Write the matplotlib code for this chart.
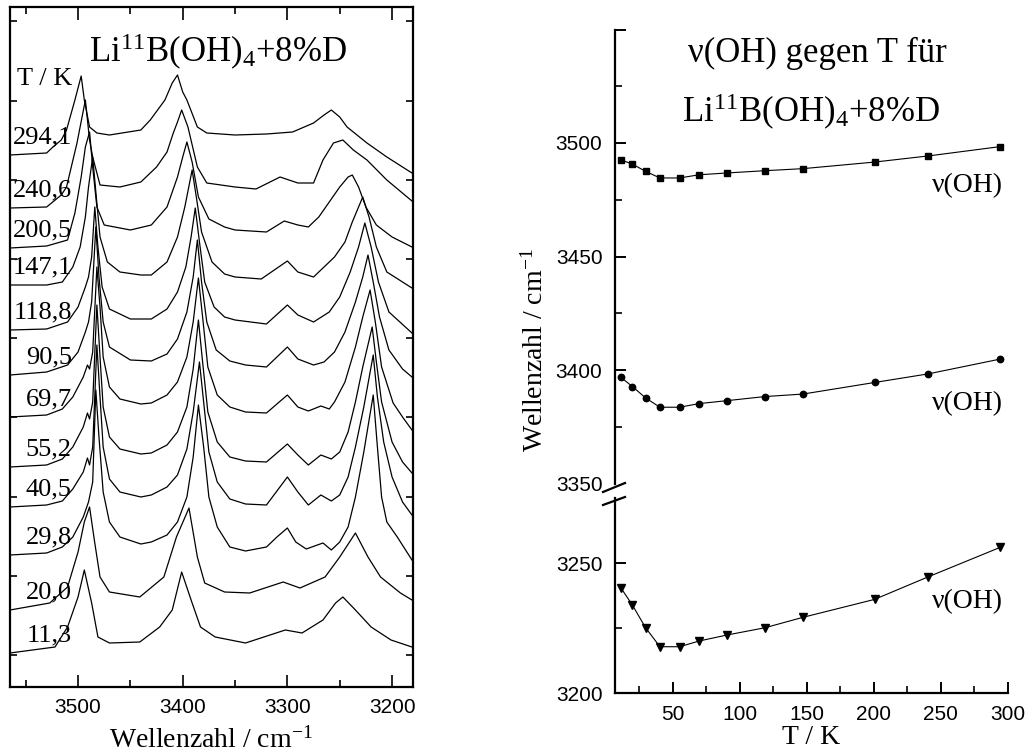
import numpy as np
import matplotlib
matplotlib.use('Agg')
import matplotlib.pyplot as plt
from matplotlib.lines import Line2D

plt.rcParams['font.family'] = 'Liberation Serif'
plt.rcParams['mathtext.fontset'] = 'custom'
plt.rcParams['mathtext.rm'] = 'Liberation Serif'
plt.rcParams['mathtext.it'] = 'Liberation Serif:italic'
plt.rcParams['mathtext.bf'] = 'Liberation Serif:bold'

# rechts: Bandenlagen gegen Temperatur
T = [11.3, 20.0, 29.8, 40.5, 55.2, 69.7, 90.5, 118.8, 147.1, 200.5, 240.6, 294.1]
nu_high = [3492.6, 3490.7, 3487.5, 3484.6, 3484.6, 3486.0, 3486.8, 3487.8, 3488.7, 3491.6, 3494.3, 3498.4]
nu_mid = [3396.8, 3392.7, 3387.7, 3383.6, 3383.6, 3385.2, 3386.5, 3388.3, 3389.4, 3394.5, 3398.3, 3404.8]
nu_low = [3240.5, 3233.8, 3225.1, 3217.8, 3217.8, 3220.0, 3222.3, 3225.1, 3229.1, 3236.0, 3244.7, 3256.0]

# links: Spektren (mit Versatz, willkuerliche Einheiten)
temp_labels = ['11,3', '20,0', '29,8', '40,5', '55,2', '69,7', '90,5', '118,8', '147,1', '200,5', '240,6', '294,1']

wn_113 = [3565, 3522, 3510, 3500, 3494, 3487, 3481, 3470, 3441, 3422, 3410, 3401, 3391, 3383, 3369, 3340, 3302, 3286, 3266, 3254, 3247, 3235, 3220, 3201, 3181]
in_113 = [34, 40, 60, 90, 117, 84, 50, 44, 45, 60, 77, 115, 84, 60, 50, 44, 57, 54, 67, 84, 90, 77, 60, 47, 40]

wn_200 = [3565, 3527, 3510, 3500, 3494, 3489, 3484, 3479, 3470, 3441, 3418, 3406, 3394, 3386, 3379, 3360, 3336, 3304, 3288, 3264, 3250, 3235, 3223, 3211, 3192, 3181]
in_200 = [77, 84, 100, 135, 165, 180, 144, 110, 95, 90, 110, 150, 179, 130, 104, 95, 94, 105, 99, 110, 130, 154, 130, 110, 94, 87]

wn_298 = [3565, 3530, 3515, 3505, 3495, 3490, 3486, 3483, 3480, 3476, 3470, 3460, 3440, 3430, 3415, 3405, 3396, 3390, 3385, 3380, 3375, 3367, 3355, 3340, 3320, 3310, 3300, 3292, 3282, 3266, 3258, 3250, 3242, 3235, 3227, 3218, 3214, 3210, 3205, 3195, 3181]
in_298 = [132, 134, 140, 150, 170, 185, 205, 297, 250, 195, 165, 150, 143, 145, 152, 165, 190, 230, 282, 240, 190, 160, 140, 136, 140, 150, 159, 145, 138, 144, 137, 145, 160, 190, 235, 292, 240, 190, 165, 150, 127]

wn_405 = [3565, 3530, 3515, 3505, 3495, 3491, 3489, 3486, 3482, 3479, 3476, 3470, 3460, 3440, 3430, 3415, 3405, 3396, 3390, 3384, 3380, 3375, 3367, 3355, 3340, 3320, 3300, 3290, 3280, 3268, 3258, 3250, 3242, 3235, 3227, 3218, 3214, 3208, 3200, 3190, 3181]
in_405 = [180, 182, 186, 198, 215, 229, 222, 240, 342, 290, 240, 208, 195, 190, 192, 200, 212, 238, 275, 325, 285, 235, 205, 188, 183, 182, 210, 195, 182, 192, 186, 192, 210, 240, 280, 332, 290, 245, 210, 185, 172]

wn_552 = [3565, 3530, 3515, 3505, 3495, 3491, 3489, 3486, 3482, 3479, 3476, 3470, 3460, 3440, 3430, 3415, 3405, 3396, 3390, 3385, 3381, 3376, 3367, 3355, 3340, 3320, 3300, 3290, 3280, 3268, 3258, 3250, 3242, 3235, 3228, 3219, 3215, 3210, 3200, 3190, 3181]
in_552 = [220, 222, 228, 240, 260, 274, 268, 285, 382, 330, 280, 250, 238, 233, 234, 242, 255, 280, 318, 367, 325, 275, 245, 230, 226, 225, 243, 232, 222, 232, 228, 235, 255, 285, 320, 360, 325, 285, 245, 225, 214]

wn_697 = [3565, 3530, 3515, 3505, 3495, 3491, 3489, 3486, 3482, 3479, 3476, 3470, 3460, 3440, 3430, 3415, 3405, 3396, 3390, 3385, 3381, 3376, 3367, 3355, 3340, 3320, 3300, 3290, 3280, 3268, 3260, 3255, 3245, 3235, 3228, 3221, 3216, 3210, 3199, 3190, 3181]
in_697 = [270, 272, 278, 290, 310, 322, 318, 335, 420, 380, 330, 300, 288, 283, 284, 292, 305, 330, 365, 409, 370, 320, 292, 280, 275, 274, 292, 280, 276, 281, 278, 285, 305, 340, 370, 397, 365, 320, 284, 270, 257]

wn_905 = [3565, 3530, 3510, 3500, 3493, 3490, 3487, 3483, 3480, 3476, 3470, 3450, 3430, 3415, 3405, 3396, 3390, 3386, 3382, 3377, 3368, 3355, 3340, 3320, 3300, 3290, 3275, 3265, 3255, 3245, 3235, 3228, 3223, 3218, 3212, 3203, 3190, 3181]
in_905 = [312, 315, 322, 335, 355, 365, 385, 460, 410, 365, 340, 327, 326, 333, 348, 375, 410, 447, 405, 365, 337, 326, 322, 320, 340, 328, 322, 325, 335, 355, 385, 410, 432, 405, 370, 337, 318, 310]

wn_1188 = [3565, 3530, 3510, 3500, 3493, 3490, 3487, 3484, 3481, 3477, 3470, 3450, 3430, 3415, 3405, 3397, 3392, 3388, 3384, 3379, 3370, 3360, 3350, 3320, 3300, 3290, 3275, 3260, 3250, 3240, 3232, 3226, 3220, 3213, 3203, 3181]
in_1188 = [357, 358, 365, 380, 400, 410, 430, 480, 440, 400, 378, 368, 368, 378, 395, 420, 450, 479, 445, 405, 380, 370, 367, 363, 382, 372, 365, 375, 390, 415, 440, 464, 440, 405, 375, 354]

wn_1471 = [3565, 3530, 3515, 3505, 3498, 3493, 3490, 3486, 3483, 3479, 3472, 3460, 3440, 3430, 3415, 3405, 3398, 3391, 3387, 3382, 3372, 3360, 3350, 3325, 3300, 3290, 3275, 3265, 3255, 3245, 3238, 3228, 3222, 3215, 3205, 3181]
in_1471 = [402, 402, 405, 420, 440, 470, 500, 530, 495, 450, 425, 415, 412, 412, 425, 450, 480, 517, 490, 455, 425, 413, 410, 408, 426, 415, 410, 420, 430, 445, 465, 490, 470, 440, 415, 399]

wn_2005 = [3565, 3530, 3510, 3503, 3497, 3493, 3489, 3486, 3482, 3475, 3450, 3430, 3415, 3405, 3400, 3396, 3391, 3385, 3375, 3360, 3350, 3320, 3303, 3290, 3280, 3270, 3260, 3250, 3242, 3238, 3232, 3225, 3215, 3200, 3181]
in_2005 = [439, 441, 447, 474, 510, 540, 555, 520, 480, 462, 457, 462, 480, 510, 530, 545, 525, 490, 468, 460, 457, 455, 466, 462, 460, 470, 485, 500, 510, 512, 500, 480, 462, 450, 440]

wn_2406 = [3565, 3530, 3516, 3511, 3501, 3493, 3489, 3486, 3479, 3460, 3440, 3425, 3415, 3409, 3405, 3401, 3395, 3386, 3377, 3350, 3330, 3307, 3290, 3275, 3266, 3256, 3247, 3237, 3224, 3205, 3181]
in_2406 = [479, 480, 492, 500, 544, 587, 547, 530, 502, 500, 505, 520, 535, 554, 565, 577, 560, 520, 504, 500, 498, 510, 504, 504, 527, 544, 547, 537, 527, 507, 486]

wn_2941 = [3565, 3530, 3524, 3516, 3511, 3503, 3497, 3494, 3489, 3482, 3470, 3440, 3431, 3417, 3410, 3405, 3400, 3396, 3386, 3377, 3350, 3320, 3295, 3275, 3265, 3258, 3250, 3243, 3224, 3205, 3181]
in_2941 = [532, 534, 540, 547, 557, 587, 611, 587, 560, 554, 552, 557, 567, 587, 604, 612, 595, 587, 560, 554, 552, 553, 555, 564, 572, 577, 570, 560, 544, 530, 514]

spectra = [(wn_113, in_113), (wn_200, in_200), (wn_298, in_298), (wn_405, in_405),
           (wn_552, in_552), (wn_697, in_697), (wn_905, in_905), (wn_1188, in_1188),
           (wn_1471, in_1471), (wn_2005, in_2005), (wn_2406, in_2406), (wn_2941, in_2941)]

fig = plt.figure(figsize=(10.29, 7.55), dpi=100)

# ---------------- links: Spektren
ax = fig.add_axes([10 / 1029, 1 - 687 / 755, 403 / 1029, 680 / 755])
for (wn, it), lab in zip(spectra, temp_labels):
    ax.plot(wn, it, color='black', lw=0.9)
    ax.text(3506, it[0] + 12, lab, ha='right', va='baseline', fontsize=19)
ax.text(3505, 602, 'T / K', ha='right', va='baseline', fontsize=19)
ax.text(0.516, 0.918, 'Li$^{11}$B(OH)$_4$+8%D', transform=ax.transAxes,
        ha='center', va='baseline', fontsize=25)

ax.set_xlim(3565, 3180)
ax.set_ylim(0, 680)
ax.set_xticks([3500, 3400, 3300, 3200])
ax.set_xticks([3550, 3450, 3350, 3250], minor=True)
ax.set_yticks(np.arange(32, 680, 79.2))
ax.tick_params(axis='both', which='both', direction='in', top=True, right=True,
               labelleft=False, width=1.2)
ax.tick_params(axis='x', which='major', length=9, labelsize=15, pad=8)
ax.tick_params(axis='x', which='minor', length=5)
ax.tick_params(axis='y', length=5)
for lab in ax.get_xticklabels():
    lab.set_fontfamily('Liberation Sans')
for s in ax.spines.values():
    s.set_linewidth(1.6)
fig.text(211 / 1029, 1 - 740 / 755, 'Wellenzahl / cm$^{-1}$', ha='center', va='center', fontsize=20)

# ---------------- rechts: gebrochene y-Achse
x0, x1 = 615 / 1029, 1008 / 1029
ax_u = fig.add_axes([x0, 1 - 483.5 / 755, x1 - x0, 454 / 755])
ax_l = fig.add_axes([x0, 1 - 693 / 755, x1 - x0, 195 / 755])

ms = dict(color='black', lw=0.8)
ax_u.plot(T, nu_high, marker='s', markersize=4.3, **ms)
ax_u.plot(T, nu_mid, marker='o', markersize=4.6, **ms)
ax_l.plot(T, nu_low, marker='v', markersize=5.2, **ms)

for a in (ax_u, ax_l):
    a.set_xlim(7, 300)
    a.spines['top'].set_visible(False)
    a.spines['right'].set_visible(False)
    a.spines['left'].set_linewidth(1.6)
    a.spines['bottom'].set_linewidth(1.6)
    a.tick_params(axis='both', which='major', direction='in', length=8, width=1.4, labelsize=15)
    a.tick_params(axis='both', which='minor', direction='in', length=5, width=1.2)

ax_u.spines['bottom'].set_visible(False)
ax_u.set_ylim(3350, 3550)
ax_u.set_yticks([3350, 3400, 3450, 3500, 3550])
ax_u.set_yticklabels(['3350', '3400', '3450', '3500', ''])
ax_u.set_yticks([3375, 3425, 3475, 3525], minor=True)
ax_u.tick_params(axis='x', which='both', bottom=False, labelbottom=False)
ax_u.tick_params(axis='y', pad=9)
ax_u.yaxis.get_major_ticks()[0].tick1line.set_visible(False)

ax_l.set_ylim(3200, 3275)
ax_l.set_yticks([3200, 3250])
ax_l.set_yticks([3225], minor=True)
ax_l.set_xticks([50, 100, 150, 200, 250, 300])
ax_l.set_xticks([25, 75, 125, 175, 225, 275], minor=True)
ax_l.tick_params(axis='y', pad=9)
ax_l.tick_params(axis='x', pad=9)

for a in (ax_u, ax_l):
    for lab in a.get_xticklabels() + a.get_yticklabels():
        lab.set_fontfamily('Liberation Sans')

# Bruchzeichen
for ya, yb in [(492, 483), (505, 497)]:
    fig.add_artist(Line2D([603 / 1029, 625 / 1029], [1 - ya / 755, 1 - yb / 755],
                          color='black', lw=1.6))

fig.text(967 / 1029, 1 - 192 / 755, 'ν(OH)', ha='center', va='baseline', fontsize=20)
fig.text(967 / 1029, 1 - 410 / 755, 'ν(OH)', ha='center', va='baseline', fontsize=20)
fig.text(967 / 1029, 1 - 608 / 755, 'ν(OH)', ha='center', va='baseline', fontsize=20)

fig.text(817 / 1029, 1 - 62 / 755, 'ν(OH) gegen T für', ha='center', va='baseline', fontsize=25)
fig.text(811 / 1029, 1 - 122 / 755, 'Li$^{11}$B(OH)$_4$+8%D', ha='center', va='baseline', fontsize=25)

fig.text(535 / 1029, 1 - 350 / 755, 'Wellenzahl / cm$^{-1}$', rotation=90,
         ha='center', va='center', fontsize=20)
fig.text(811 / 1029, 1 - 738 / 755, 'T / K', ha='center', va='center', fontsize=20)

fig.savefig('out.png', dpi=100)
